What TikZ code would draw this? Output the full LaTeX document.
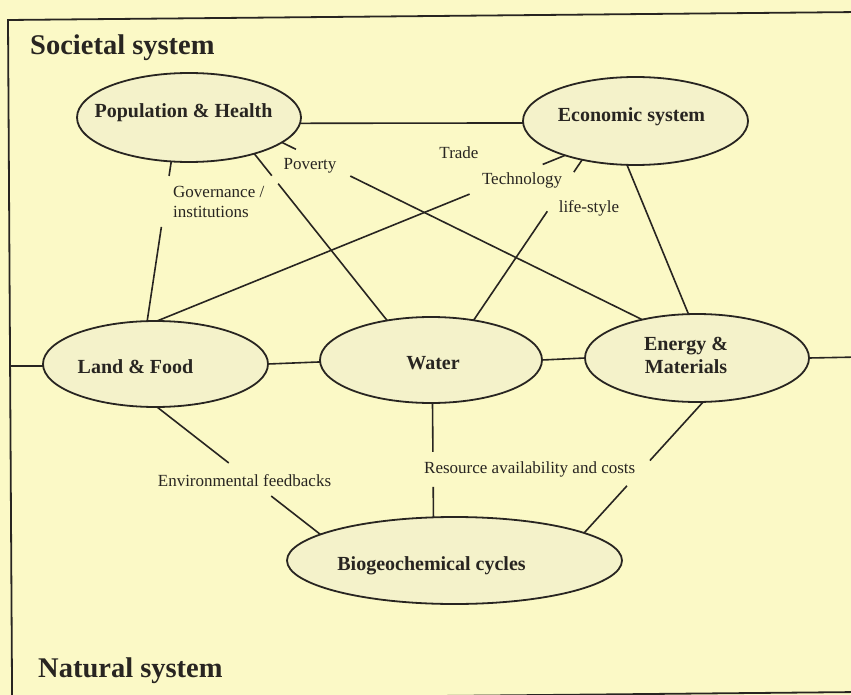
\documentclass[tikz,border=0pt]{standalone}
\usepackage{fontspec}
\setmainfont{Liberation Serif}
\usetikzlibrary{shapes.geometric}
\definecolor{paper}{RGB}{251,249,198}
\definecolor{ink}{RGB}{40,37,33}
\definecolor{bubble}{RGB}{244,242,202}

\begin{document}
\begin{tikzpicture}[x=1pt,y=-1pt,
  system/.style={ellipse, draw=ink, line width=1.8pt, fill=bubble, inner sep=0pt, outer sep=0pt},
  link/.style={draw=ink, line width=1.6pt},
  frame/.style={draw=ink, line width=1.8pt},
  sysname/.style={inner sep=0pt, text=ink, font=\fontsize{20}{23}\selectfont\bfseries, anchor=base},
  linkname/.style={inner sep=0pt, text=ink, font=\fontsize{17}{20}\selectfont, anchor=base},
  heading/.style={inner sep=0pt, text=ink, font=\fontsize{28.5}{32}\selectfont\bfseries, anchor=base west},
]
% page and outer frame
\fill[paper] (0,0) rectangle (851,695);
\useasboundingbox (0,0) rectangle (851,695);
\clip (0,0) rectangle (851,695);
\draw[frame] (860,12) -- (8,20) -- (12.1,700) -- (860,692);
\coordinate (leftwall) at (10,366);
\coordinate (rightwall) at (860,357);

% system bubbles
\node[system, minimum width=224pt, minimum height=89pt] (pop) at (189,117.5) {};
\node[system, minimum width=225pt, minimum height=88pt] (econ) at (635.5,121) {};
\node[system, minimum width=225pt, minimum height=86pt] (land) at (155.5,364) {};
\node[system, minimum width=222pt, minimum height=86pt] (water) at (431,360) {};
\node[system, minimum width=224pt, minimum height=88pt] (energy) at (697,358) {};
\node[system, minimum width=335pt, minimum height=87pt] (bio) at (454.5,560.5) {};

% bubble titles
\node[sysname] (popT) at (183.5,118) {Population \& Health};
\node[sysname] (econT) at (631.5,122) {Economic system};
\node[sysname] (landT) at (135.5,373) {Land \& Food};
\node[sysname] (waterT) at (433,369) {Water};
\node[sysname] (energyT1) at (686,350) {Energy \&};
\node[sysname] (energyT2) at (686,373) {Materials};
\node[sysname] (bioT) at (431.5,570) {Biogeochemical cycles};

% headings
\node[heading] (soc) at (30,55) {Societal system};
\node[heading] (nat) at (38,677) {Natural system};

% straight links
\draw[link] (pop.-3.4) -- (econ.181.5);
\draw[link] (econ.259.7) -- (energy.101.6);
\draw[link] (land.0.5) -- (water.181);
\draw[link] (water.0.5) -- (energy.180);
\draw[link] (land.181) -- (leftwall);
\draw[link] (energy.0.5) -- (rightwall);

% links broken where a label sits
\path (pop.-29.7) -- (water.138.4) coordinate[pos=.132] (pw1) coordinate[pos=.18] (pw2);
\draw[link] (pop.-29.7) -- (pw1) (pw2) -- (water.138.4);

\path (pop.-15.5) -- (energy.145.8) coordinate[pos=.039] (pe1) coordinate[pos=.19] (pe2);
\draw[link] (pop.-15.5) -- (pe1) (pe2) -- (energy.145.8);

\path (pop.248.7) -- (land.101.8) coordinate[pos=.091] (pl1) coordinate[pos=.41] (pl2);
\draw[link] (pop.248.7) -- (pl1) (pl2) -- (land.101.8);

\path (land.88.7) -- (econ.206.2) coordinate[pos=.766] (le1) coordinate[pos=.945] (le2);
\draw[link] (land.88.7) -- (le1) (le2) -- (econ.206.2);

\path (water.43.5) -- (econ.216.9) coordinate[pos=.679] (we1) coordinate[pos=.923] (we2);
\draw[link] (water.43.5) -- (we1) (we2) -- (econ.216.9);

\path (land.-88.7) -- (bio.169.4) coordinate[pos=.439] (lb1) coordinate[pos=.699] (lb2);
\draw[link] (land.-88.7) -- (lb1) (lb2) -- (bio.169.4);

\path (water.-88.7) -- (bio.116.8) coordinate[pos=.428] (wb1) coordinate[pos=.734] (wb2);
\draw[link] (water.-88.7) -- (wb1) (wb2) -- (bio.116.8);

\path (energy.-82.2) -- (bio.12.9) coordinate[pos=.447] (eb1) coordinate[pos=.64] (eb2);
\draw[link] (energy.-82.2) -- (eb1) (eb2) -- (bio.12.9);

% link labels
\node[linkname] (poverty) at (310,170) {Poverty};
\node[linkname] (trade) at (459,159) {Trade};
\node[linkname] (tech) at (522,185) {Technology};
\node[linkname] (life) at (589,212) {life-style};
\node[linkname, anchor=base west] (gov1) at (173,198) {Governance /};
\node[linkname, anchor=base west] (gov2) at (173,218) {institutions};
\node[linkname] (envfb) at (244.5,486) {Environmental feedbacks};
\node[linkname, anchor=base west] (resource) at (424,473) {Resource availability and costs};
\end{tikzpicture}
\end{document}
